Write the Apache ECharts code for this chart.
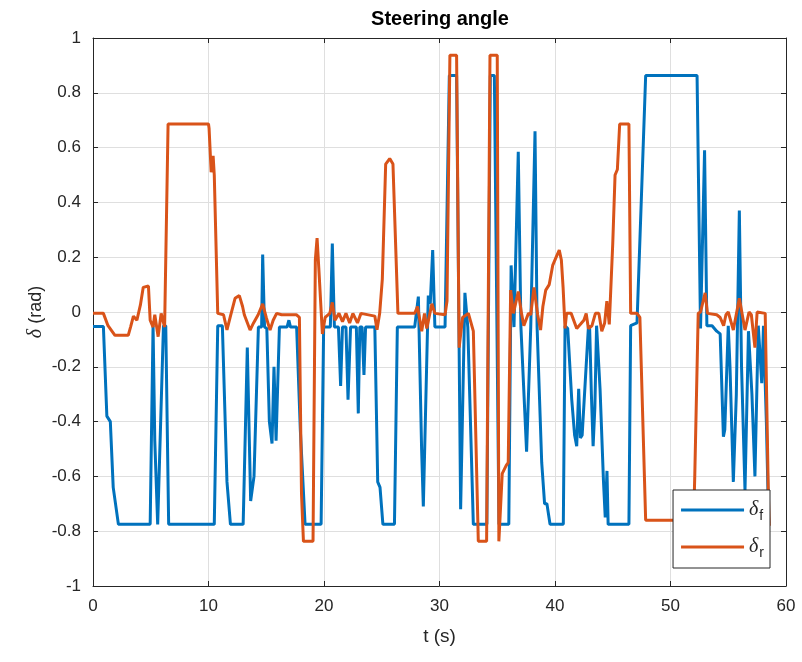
<!DOCTYPE html>
<html>
<head>
<meta charset="utf-8">
<script src="https://cdn.jsdelivr.net/npm/echarts@6/dist/echarts.min.js"></script>
<style>html,body{margin:0;padding:0;background:#fff}#c{width:802px;height:662px}</style>
</head>
<body>
<div id="c"></div>
<script>
// Axis settings
const xMin = 0, xMax = 60, xStep = 10;
const yMin = -1, yMax = 1, yStep = 0.2;

// delta_f (front steering angle): time [s] and value [rad]
const tF = [0,0.9,1.2,1.5,1.75,2.2,4.95,5.2,5.35,5.6,6.1,6.3,6.55,10.5,10.8,11.2,11.6,11.9,13.0,13.36,13.65,13.94,14.32,14.6,14.69,14.85,15.05,15.27,15.5,15.67,15.85,16.14,16.8,16.96,17.1,17.63,17.95,18.36,19.75,19.97,20.55,20.72,20.9,21.25,21.44,21.6,21.9,22.08,22.3,22.8,22.97,23.1,23.3,23.46,23.6,24.4,24.65,24.85,25.1,26.1,26.35,27.85,28.17,28.45,28.6,28.75,29.03,29.2,29.41,29.6,30.48,30.85,31.48,31.83,32.2,32.45,32.93,34.1,34.4,34.75,35.15,36.0,36.2,36.45,36.82,37.05,37.54,37.9,38.27,38.45,38.85,39.1,39.3,39.57,40.72,40.87,41.1,41.45,41.7,41.88,42.05,42.2,42.35,42.9,43.0,43.15,43.3,43.45,43.6,43.75,43.9,44.2,44.35,44.5,44.6,46.4,46.55,47.1,47.85,52.3,52.6,52.95,53.15,53.6,54.0,54.3,54.58,54.7,55.0,55.15,55.44,55.7,55.96,56.15,56.45,56.75,57.05,57.31,57.6,57.9,58.05,58.3,58.5];
const dF = [-0.053,-0.053,-0.38,-0.40,-0.64,-0.775,-0.775,-0.05,-0.47,-0.775,-0.05,-0.05,-0.775,-0.775,-0.05,-0.05,-0.62,-0.775,-0.775,-0.13,-0.69,-0.6,-0.055,-0.055,0.21,-0.055,-0.06,-0.4,-0.48,-0.2,-0.47,-0.055,-0.055,-0.03,-0.055,-0.055,-0.43,-0.775,-0.775,-0.055,-0.055,0.25,-0.055,-0.055,-0.27,-0.055,-0.055,-0.32,-0.055,-0.055,-0.37,-0.055,-0.055,-0.23,-0.055,-0.055,-0.62,-0.64,-0.775,-0.775,-0.055,-0.055,0.056,-0.5,-0.71,-0.71,0.06,0.03,0.226,-0.055,-0.055,0.863,0.863,-0.72,0.07,-0.055,-0.775,-0.775,0.863,0.863,-0.775,-0.775,0.17,-0.055,0.585,-0.055,-0.51,-0.055,0.66,-0.055,-0.55,-0.70,-0.70,-0.775,-0.775,-0.05,-0.06,-0.32,-0.45,-0.49,-0.28,-0.46,-0.45,-0.05,-0.06,-0.3,-0.49,-0.35,-0.05,-0.05,-0.28,-0.62,-0.75,-0.58,-0.775,-0.775,-0.05,-0.04,0.863,0.863,-0.06,0.59,-0.05,-0.05,-0.07,-0.08,-0.455,-0.43,-0.05,-0.2,-0.62,-0.3,0.37,-0.2,-0.65,-0.07,-0.3,-0.6,-0.05,-0.26,-0.05,-0.4,-0.77];

// delta_r (rear steering angle): time [s] and value [rad]
const tR = [0,0.9,1.3,1.9,3.05,3.25,3.5,3.8,4.1,4.35,4.8,4.95,5.2,5.35,5.64,5.9,6.2,6.5,10.0,10.05,10.23,10.4,10.5,10.8,11.3,11.6,11.9,12.3,12.67,12.95,13.1,13.6,13.9,14.3,14.69,15.0,15.33,15.6,15.9,16.33,17.6,17.87,18.05,18.22,19.05,19.25,19.4,19.55,19.86,20.1,20.5,20.72,20.95,21.3,21.6,21.9,22.22,22.5,22.9,23.2,24.4,24.59,24.82,25.05,25.34,25.69,25.97,26.4,27.85,28.1,28.46,28.7,28.9,29.34,29.6,30.48,30.65,30.9,31.48,31.7,32.0,32.5,32.93,33.36,34.08,34.37,35.0,35.14,35.43,35.78,35.95,36.16,36.4,36.82,37.1,37.3,37.7,37.9,38.18,38.5,38.75,38.95,39.2,39.5,39.8,40.1,40.37,40.55,40.7,40.87,41.0,41.4,41.88,42.2,42.5,42.7,42.89,43.2,43.5,43.8,44.05,44.3,44.49,44.7,45.0,45.2,45.4,45.6,46.4,46.55,47.1,47.35,47.85,52.0,52.1,52.4,52.6,53.0,53.2,54.0,54.3,54.6,54.8,55.0,55.44,55.96,56.45,56.8,57.0,57.31,57.5,58.2,58.47,58.55];
const dR = [-0.005,-0.005,-0.05,-0.085,-0.085,-0.055,-0.015,-0.03,0.025,0.09,0.095,-0.03,-0.055,-0.01,-0.09,-0.005,-0.055,0.686,0.686,0.67,0.51,0.57,0.5,-0.005,-0.01,-0.065,-0.015,0.05,0.06,0.02,-0.01,-0.066,-0.04,-0.01,0.03,-0.02,-0.066,-0.03,-0.005,-0.01,-0.01,-0.02,-0.66,-0.837,-0.837,0.19,0.27,0.16,-0.08,-0.02,-0.005,0.035,-0.03,-0.005,-0.035,-0.005,-0.04,-0.005,-0.04,-0.005,-0.015,-0.065,-0.005,0.12,0.54,0.56,0.54,-0.005,-0.005,0.02,-0.07,-0.005,-0.06,0.03,-0.005,-0.01,0.04,0.937,0.937,-0.13,-0.02,-0.005,-0.07,-0.837,-0.837,0.937,0.937,-0.837,-0.59,-0.56,-0.55,0.08,-0.005,0.075,-0.005,-0.05,-0.005,-0.01,0.09,-0.01,-0.066,0.02,0.08,0.1,0.17,0.20,0.226,0.19,0.09,-0.06,-0.005,-0.005,-0.06,-0.045,-0.03,-0.005,-0.06,-0.05,-0.005,-0.005,-0.07,-0.04,0.04,-0.045,0.25,0.5,0.52,0.686,0.686,-0.005,-0.005,-0.02,-0.76,-0.76,-0.6,-0.005,0.0,0.07,-0.005,-0.01,-0.02,-0.05,-0.01,0.0,-0.066,0.05,-0.066,0.0,-0.01,-0.13,0.0,-0.005,-0.66,-0.78];

const seriesNames = ['δf', 'δr'];
const colors = ['#0072BD', '#D95319'];
const titleText = 'Steering angle';
const xName = 't (s)';

const zip = (t, d) => t.map((v, i) => [v, d[i]]);
const axisColor = '#262626';
const font = 'Liberation Sans, Arial, Helvetica, sans-serif';

const chart = echarts.init(document.getElementById('c'), null, {renderer: 'canvas'});
const baseX = {type: 'value', min: xMin, max: xMax, interval: xStep};
const baseY = {type: 'value', min: yMin, max: yMax, interval: yStep};
const line = {show: true, onZero: false, lineStyle: {color: axisColor, width: 1}};
const tick = {show: true, inside: true, length: 5, lineStyle: {color: axisColor}};
chart.setOption({
  animation: false,
  backgroundColor: '#fff',
  graphic: [{
    type: 'text', x: 440, y: 19, silent: true,
    style: {text: titleText, textAlign: 'center', textVerticalAlign: 'middle',
      fontFamily: font, fontSize: 20, fontWeight: 'bold', fill: '#000'}
  }],
  grid: {left: 93, right: 16, top: 38, bottom: 76, containLabel: false},
  xAxis: [
    Object.assign({}, baseX, {
      position: 'bottom',
      name: xName, nameLocation: 'middle', nameGap: 41, nameMoveOverlap: false,
      nameTextStyle: {fontFamily: font, fontSize: 19, color: axisColor},
      axisLine: line, axisTick: tick,
      axisLabel: {margin: 12, fontFamily: font, fontSize: 17, color: axisColor},
      splitLine: {show: true, lineStyle: {color: '#dfdfdf', width: 1}}
    }),
    Object.assign({}, baseX, {
      position: 'top',
      axisLine: line, axisTick: tick,
      axisLabel: {show: false}, splitLine: {show: false}
    })
  ],
  yAxis: [
    Object.assign({}, baseY, {
      position: 'left',
      name: '{d|δ} (rad)', nameLocation: 'middle', nameGap: 47, nameRotate: 90, nameMoveOverlap: false,
      nameTextStyle: {fontFamily: font, fontSize: 18, color: axisColor,
        rich: {d: {fontFamily: 'Liberation Serif, serif', fontStyle: 'italic', fontSize: 20, color: axisColor}}},
      axisLine: line, axisTick: tick,
      axisLabel: {margin: 12, fontFamily: font, fontSize: 17, color: axisColor,
        formatter: v => String(Number(v.toFixed(1)))},
      splitLine: {show: true, lineStyle: {color: '#dfdfdf', width: 1}}
    }),
    Object.assign({}, baseY, {
      position: 'right',
      axisLine: line, axisTick: tick,
      axisLabel: {show: false}, splitLine: {show: false}
    })
  ],
  legend: {
    orient: 'vertical', right: 32, bottom: 94,
    backgroundColor: '#fff', borderColor: axisColor, borderWidth: 1,
    padding: [10, 6, 8, 8], itemGap: 14, itemWidth: 63, itemHeight: 3, icon: 'rect',
    data: seriesNames,
    formatter: n => '{d|δ}{s|' + n.slice(1) + '}',
    textStyle: {
      color: axisColor,
      rich: {
        d: {fontFamily: 'Liberation Serif, serif', fontStyle: 'italic', fontSize: 20, color: axisColor},
        s: {fontFamily: font, fontSize: 14, color: axisColor, padding: [12, 0, 0, 1]}
      }
    }
  },
  series: [
    {name: seriesNames[0], type: 'line', data: zip(tF, dF), showSymbol: false, symbol: 'none',
     lineStyle: {width: 3, color: colors[0]}, itemStyle: {color: colors[0]}, z: 2},
    {name: seriesNames[1], type: 'line', data: zip(tR, dR), showSymbol: false, symbol: 'none',
     lineStyle: {width: 3, color: colors[1]}, itemStyle: {color: colors[1]}, z: 3}
  ]
});
</script>
</body>
</html>
